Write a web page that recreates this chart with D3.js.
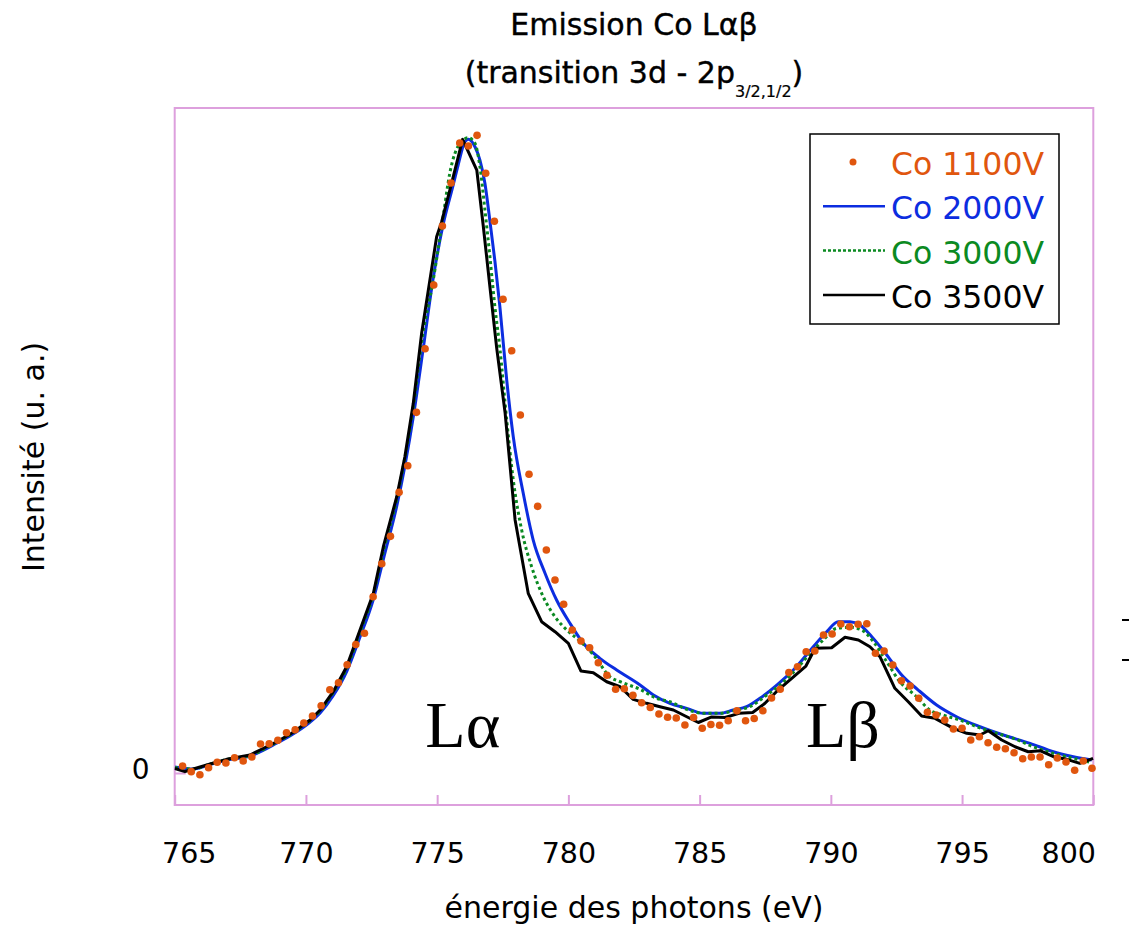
<!DOCTYPE html>
<html><head><meta charset="utf-8">
<script src="https://cdn.jsdelivr.net/npm/d3@7"></script>
<style>body{margin:0;background:#fff} svg{display:block}</style>
</head><body><svg id="c" width="1129" height="928"></svg>
<script>
// ---------- DATA ----------
const seriesNames = ["Co 1100V", "Co 2000V", "Co 3000V", "Co 3500V"];
const xTicks = [765, 770, 775, 780, 785, 790, 795, 800];
const yTicks = [0];

// Co 1100V (points)
const energy1100 = [
  765.30,765.63,765.96,766.29,766.62,766.95,767.28,767.61,767.94,768.27,
  768.60,768.93,769.26,769.59,769.92,770.25,770.58,770.91,771.24,771.57,
  771.90,772.23,772.56,772.89,773.22,773.55,773.88,774.21,774.54,774.87,
  775.20,775.53,775.86,776.19,776.52,776.85,777.18,777.51,777.84,778.17,
  778.50,778.83,779.16,779.49,779.82,780.15,780.48,780.81,781.14,781.47,
  781.80,782.13,782.46,782.79,783.12,783.45,783.78,784.11,784.44,784.77,
  785.10,785.43,785.76,786.09,786.42,786.75,787.08,787.41,787.74,788.07,
  788.40,788.73,789.06,789.39,789.72,790.05,790.38,790.71,791.04,791.37,
  791.70,792.03,792.36,792.69,793.02,793.35,793.68,794.01,794.34,794.67,
  795.00,795.33,795.66,795.99,796.32,796.65,796.98,797.31,797.64,797.97,
  798.30,798.63,798.96,799.29,799.62,799.95];
const co1100 = [
  1.11,0.21,-0.27,0.84,1.69,1.58,2.42,1.90,2.53,4.58,
  4.63,5.17,6.37,6.84,7.90,9.00,10.63,13.16,14.27,17.11,
  20.30,22.07,27.85,33.06,37.39,44.34,48.55,56.98,67.03,77.09,
  86.41,93.21,99.53,99.05,100.74,94.74,87.16,74.85,66.70,56.56,
  47.19,42.13,35.23,30.49,26.65,22.59,20.85,19.79,17.42,15.45,
  13.22,13.32,12.27,11.11,10.35,9.32,8.80,8.70,7.58,8.77,
  7.08,7.66,7.55,8.25,9.84,8.26,8.61,9.84,11.85,13.22,
  15.88,16.79,19.16,19.27,21.80,21.96,23.54,23.11,23.49,23.59,
  18.91,19.27,17.06,14.58,13.74,11.80,9.59,9.16,8.37,6.95,
  7.06,5.21,5.73,4.79,4.06,3.84,3.21,2.26,2.53,2.53,
  1.31,2.37,1.74,0.43,1.90,0.74];

// Co 2000V (line)
const energy2000 = [
  765.01,765.70,766.35,766.99,767.87,768.90,769.51,770.16,770.54,771.03,
  771.56,772.06,772.56,772.98,773.47,773.77,774.12,774.47,774.85,775.22,
  775.60,775.79,776.06,776.19,776.44,776.63,776.82,777.01,777.20,777.39,
  777.65,777.90,778.28,778.66,779.11,779.55,780.06,780.57,781.20,781.84,
  782.73,783.24,783.87,784.51,785.14,785.77,786.28,786.79,787.30,787.94,
  788.57,789.33,789.84,790.28,790.73,791.11,791.56,792.13,792.70,793.33,
  794.03,794.79,795.68,796.57,797.59,798.48,799.24,799.94];
const co2000 = [
  0.95,0.63,1.34,2.05,2.69,4.74,6.16,8.06,9.48,12.16,
  16.11,21.48,27.33,34.28,42.34,48.50,57.03,67.09,78.20,86.50,
  92.73,95.89,99.73,100.11,98.94,96.84,93.16,87.20,80.88,73.66,
  62.09,53.13,44.19,36.81,31.56,27.33,23.65,20.49,18.12,16.27,
  13.90,12.32,11.01,10.22,9.43,9.43,9.95,10.47,11.80,13.90,
  16.27,19.95,22.32,23.90,23.90,23.38,21.53,18.64,15.48,13.11,
  10.74,8.89,7.31,6.00,4.69,3.36,2.58,2.05];

// Co 3000V (dotted line)
const energy3000 = [
  765.01,765.70,766.35,766.99,767.87,768.90,769.51,770.16,770.54,771.03,
  771.56,772.06,772.56,772.98,773.47,773.77,774.12,774.41,774.85,775.22,
  775.49,775.87,776.19,776.44,776.63,776.82,777.01,777.20,777.39,777.65,
  777.90,778.22,778.60,779.04,779.49,779.94,780.44,781.01,781.59,781.97,
  782.73,783.36,783.87,784.51,785.14,785.77,786.41,786.91,787.56,788.06,
  788.57,789.33,789.71,790.22,790.73,791.18,791.62,792.13,792.63,793.27,
  793.77,794.28,794.91,795.56,796.32,796.95,797.71,798.48,799.24,799.94];
const co3000 = [
  0.87,0.63,1.42,2.13,2.76,4.90,6.32,8.29,9.79,12.64,
  16.59,22.27,28.12,35.55,43.44,49.76,58.61,68.09,77.88,87.68,
  94.94,99.48,100.36,99.48,95.78,88.94,81.56,73.66,67.09,55.77,
  46.29,38.39,32.59,27.85,24.69,22.59,20.85,18.37,15.17,14.42,
  13.22,11.80,11.26,10.06,9.43,9.43,9.95,10.47,12.32,13.90,
  15.88,19.43,21.01,22.86,23.02,22.59,20.74,17.58,14.42,12.05,
  9.95,9.16,8.37,7.31,6.27,5.48,4.15,3.11,2.32,1.63];

// Co 3500V (line)
const energy3500 = [
  765.01,765.39,765.71,766.35,766.98,767.87,768.25,768.89,769.52,770.16,
  770.54,771.04,771.55,772.06,772.57,772.95,773.46,773.77,774.09,774.41,
  774.98,775.17,775.55,775.97,776.51,776.76,777.01,777.27,777.59,777.97,
  778.47,778.98,779.49,780.00,780.48,780.95,781.46,781.97,782.47,782.98,
  783.49,784.00,784.51,784.95,785.46,785.97,786.50,787.02,787.49,787.99,
  788.51,789.05,789.40,790.03,790.54,791.05,791.49,791.87,792.44,792.95,
  793.46,793.97,794.67,795.18,795.68,796.00,796.51,797.02,797.52,797.97,
  798.48,798.99,799.49,799.99];
const co3500 = [
  0.71,0.21,0.63,1.42,2.16,2.84,3.63,4.94,6.43,8.37,
  9.95,12.84,16.79,22.59,28.39,35.75,43.65,49.97,58.40,69.51,
  84.72,87.05,93.16,100.11,95.26,86.30,76.82,67.09,56.87,39.97,
  28.39,23.90,22.32,20.49,16.11,15.85,14.42,13.63,11.64,11.01,
  10.47,9.95,8.89,7.98,8.85,8.77,9.43,9.56,11.01,13.11,
  14.96,16.90,19.70,19.79,21.44,21.01,19.95,18.37,13.38,11.26,
  9.00,8.64,7.06,6.27,6.00,6.68,5.21,4.15,3.36,3.52,
  2.57,2.16,1.53,2.32];

// ---------- CHART ----------
const zip = (e, v) => e.map((d, i) => ({e: d, v: v[i]}));
const d1100 = zip(energy1100, co1100);
const d2000 = zip(energy2000, co2000);
const d3000 = zip(energy3000, co3000);
const d3500 = zip(energy3500, co3500);

const FONT = "'DejaVu Sans', Verdana, sans-serif";
const frameColor = "#DDA0DD";
const cOrange = "#E0560E", cBlue = "#0C2DE0", cGreen = "#0B8A22", cBlack = "#000000";

const svg = d3.select("#c");
svg.append("rect").attr("width", 1129).attr("height", 928).attr("fill", "#fff");

const x = d3.scaleLinear().domain([765, 800]).range([174.7, 1093.3]);
const y = d3.scaleLinear().domain([-5.055, 105.06]).range([805, 108]);

// frame
svg.append("rect")
  .attr("x", x(765)).attr("y", y(105.06))
  .attr("width", x(800) - x(765)).attr("height", y(-5.055) - y(105.06))
  .attr("fill", "none").attr("stroke", frameColor).attr("stroke-width", 2);

// x axis
const gx = svg.append("g").attr("transform", `translate(0,${y(-5.055)})`)
  .call(d3.axisBottom(x).tickValues(xTicks).tickFormat(d3.format("d"))
    .tickSizeInner(-10).tickSizeOuter(0).tickPadding(38));
gx.select(".domain").remove();
gx.selectAll(".tick line").attr("stroke", frameColor).attr("stroke-width", 2);
gx.selectAll(".tick text").attr("font-family", FONT).attr("font-size", 28.5).attr("fill", "#000");
gx.selectAll(".tick text").filter(d => d === 765).attr("dx", 14);
gx.selectAll(".tick text").filter(d => d === 800).attr("dx", -25);

// y axis
const gy = svg.append("g").attr("transform", `translate(${x(765)},0)`)
  .call(d3.axisLeft(y).tickValues(yTicks).tickSizeInner(-11).tickSizeOuter(0).tickPadding(25));
gy.select(".domain").remove();
gy.selectAll(".tick line").attr("stroke", frameColor).attr("stroke-width", 2);
gy.selectAll(".tick text").attr("font-family", FONT).attr("font-size", 28).attr("fill", "#000").attr("dy", "0.2em");

// lines
const lineSmooth = d3.line().x(d => x(d.e)).y(d => y(d.v)).curve(d3.curveMonotoneX);
const lineRaw = d3.line().x(d => x(d.e)).y(d => y(d.v));

svg.append("path").datum(d2000).attr("d", lineSmooth)
  .attr("fill", "none").attr("stroke", cBlue).attr("stroke-width", 3).attr("stroke-linejoin", "round");
svg.append("path").datum(d3000).attr("d", lineSmooth)
  .attr("fill", "none").attr("stroke", cGreen).attr("stroke-width", 3).attr("stroke-dasharray", "3,3");
svg.append("path").datum(d3500).attr("d", lineRaw)
  .attr("fill", "none").attr("stroke", cBlack).attr("stroke-width", 3).attr("stroke-linejoin", "round");

svg.append("g").selectAll("circle").data(d1100).join("circle")
  .attr("cx", d => x(d.e)).attr("cy", d => y(d.v)).attr("r", 3.8).attr("fill", cOrange);

// peak labels
const SERIF = "'Liberation Serif', 'Times New Roman', serif";
svg.append("text").attr("x", x(774.55)).attr("y", y(4.1)).text("L\u03B1")
  .attr("font-family", SERIF).attr("font-size", 66).attr("fill", "#000");
svg.append("text").attr("x", x(789.05)).attr("y", y(4.1)).text("L\u03B2")
  .attr("font-family", SERIF).attr("font-size", 66).attr("fill", "#000");

// legend
const lg = svg.append("g");
lg.append("rect").attr("x", 810).attr("y", 134).attr("width", 249).attr("height", 190)
  .attr("fill", "#fff").attr("stroke", "#000").attr("stroke-width", 1.5);
const legendItems = [
  {name: seriesNames[0], color: cOrange, type: "dot"},
  {name: seriesNames[1], color: cBlue, type: "line"},
  {name: seriesNames[2], color: cGreen, type: "dash"},
  {name: seriesNames[3], color: cBlack, type: "line"}
];
legendItems.forEach((it, i) => {
  const cy = 162 + i * 44.3;
  if (it.type === "dot") {
    lg.append("circle").attr("cx", 853).attr("cy", cy).attr("r", 3.5).attr("fill", it.color);
  } else {
    lg.append("line").attr("x1", 823).attr("x2", 885).attr("y1", cy).attr("y2", cy)
      .attr("stroke", it.color).attr("stroke-width", 2.5)
      .attr("stroke-dasharray", it.type === "dash" ? "3,2" : null);
  }
  lg.append("text").attr("x", 891).attr("y", cy + 13).text(it.name)
    .attr("font-family", FONT).attr("font-size", 31.5).attr("fill", it.color);
});

// titles
svg.append("text").attr("x", 634).attr("y", 35).attr("text-anchor", "middle")
  .attr("font-family", FONT).attr("font-size", 30).attr("stroke", "#000").attr("stroke-width", 0.4)
  .text("Emission Co L\u03B1\u03B2");
const t2 = svg.append("text").attr("x", 634).attr("y", 83).attr("text-anchor", "middle")
  .attr("font-family", FONT).attr("font-size", 30).attr("stroke", "#000").attr("stroke-width", 0.4);
t2.append("tspan").text("(transition 3d - 2p");
t2.append("tspan").attr("dy", 14).attr("font-size", 16).attr("stroke-width", 0.2).text("3/2,1/2");
t2.append("tspan").attr("dy", -14).text(")");

svg.append("text").attr("transform", "translate(33,457) rotate(-90)")
  .attr("text-anchor", "middle").attr("dominant-baseline", "central")
  .attr("font-family", FONT).attr("font-size", 30).text("Intensit\u00E9 (u. a.)");
svg.append("text").attr("x", 634).attr("y", 918).attr("text-anchor", "middle")
  .attr("font-family", FONT).attr("font-size", 30).text("\u00E9nergie des photons (eV)");

// clipped fragments at the right edge
svg.append("g").selectAll("rect").data([620, 660]).join("rect")
  .attr("x", 1122).attr("y", d => d - 1).attr("width", 7).attr("height", 2).attr("fill", "#000");
</script>
</body></html>
